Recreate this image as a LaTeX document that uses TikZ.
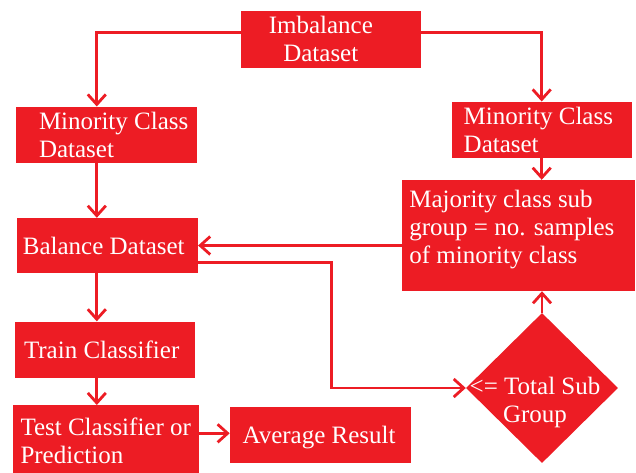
\documentclass[tikz,border=0pt]{standalone}
\usepackage{fontspec}
\setmainfont{Liberation Serif}
\usetikzlibrary{shapes.geometric, arrows.meta}
\definecolor{flowred}{HTML}{ED1C24}
\tikzset{
    box/.style={fill=flowred, inner sep=0pt},
    lbl/.style={text=white, inner sep=0pt, align=left, font=\fontsize{25}{28}\selectfont},
    link/.style={draw=flowred, line width=2.8pt, -{Straight Barb[length=10pt, width=18pt]}},
}

\begin{document}
\begin{tikzpicture}[x=1pt, y=-1pt]
        \useasboundingbox (0,0) rectangle (636,472);
        \fill[white] (0,0) rectangle (636,472);
        % boxes
        \node[box, minimum width=180pt, minimum height=57pt] (imb) at (330.8,39.3) {};
        \node[box, minimum width=181pt, minimum height=56pt] (minl) at (106.5,134.7) {};
        \node[box, minimum width=180pt, minimum height=56pt] (minr) at (541.7,129.7) {};
        \node[box, minimum width=233pt, minimum height=111pt] (maj) at (518.4,235.5) {};
        \node[box, minimum width=181pt, minimum height=55pt] (bal) at (107.4,245.5) {};
        \node[box, minimum width=180pt, minimum height=56pt] (trn) at (105,349.5) {};
        \node[box, minimum width=186pt, minimum height=71pt] (tst) at (105.5,440.7) {};
        \node[box, minimum width=181pt, minimum height=56pt] (avg) at (320.4,435.3) {};
        \node[box, diamond, minimum width=152pt, minimum height=150pt] (dia) at (542,388) {};
        % texts
        \node[lbl, align=center] (imb-t) at ([xshift=-10pt]imb.center) {Imbalance\\Dataset};
        \node[lbl, anchor=west] (minl-t) at ([xshift=23pt]minl.west) {Minority Class\\Dataset};
        \node[lbl, anchor=west] (minr-t) at ([xshift=12pt]minr.west) {Minority Class\\Dataset};
        \node[lbl, anchor=west] (maj-t) at ([xshift=7.5pt, yshift=6pt]maj.west)
            {Majority class sub\\group = no. samples\\of minority class};
        \node[lbl, anchor=west] (bal-t) at ([xshift=6pt]bal.west) {Balance Dataset};
        \node[lbl, anchor=west] (trn-t) at ([xshift=9pt]trn.west) {Train Classifier};
        \node[lbl, anchor=west] (tst-t) at ([xshift=8pt]tst.west) {Test Classifier or\\Prediction};
        \node[lbl, anchor=west] (avg-t) at ([xshift=12.7pt, yshift=-2pt]avg.west) {Average Result};
        \node[lbl, align=center] (dia-t) at ([xshift=-7pt, yshift=-14.5pt]dia.center) {<= Total Sub\\Group};
        % arrows
        \coordinate (spine) at (96.8,0);   % x of the left column arrows
        \draw[link] ([yshift=6.6pt]imb.west) -| (minl.north -| spine);
        \draw[link] ([yshift=6.6pt]imb.east) -| (minr.north);
        \draw[link] (minr.south) -- (minr.south |- maj.north);
        \foreach \src/\dst in {minl/bal, bal/trn, trn/tst}
        {
            \draw[link] (\src.south -| spine) -- (\dst.north -| spine);
        }
        \draw[link] (bal.east -| maj.west) -- (bal.east);
        \draw[link] ([yshift=-17pt]bal.east) -| ([xshift=-134pt]dia.west) -- (dia.west);
        \draw[link] (dia.north) -- (dia.north |- maj.south);
        \draw[link] ([yshift=2pt]tst.east |- avg.west) -- ([yshift=2pt]avg.west);
    \end{tikzpicture}
\end{document}
